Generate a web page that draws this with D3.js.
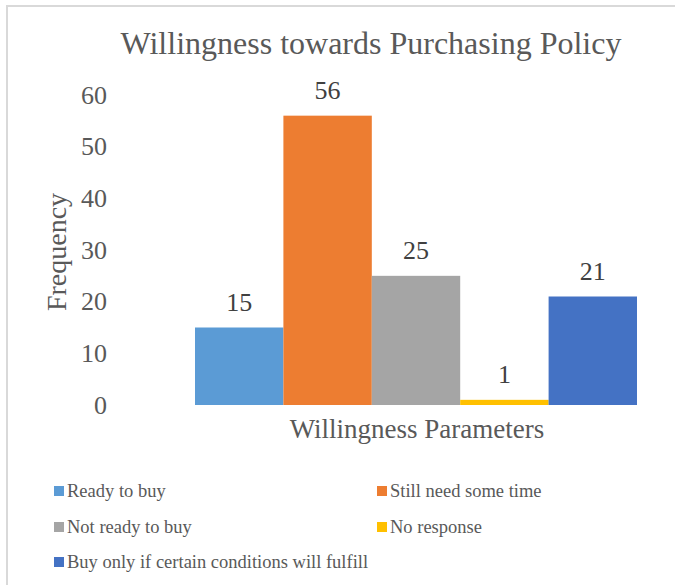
<!DOCTYPE html>
<html>
<head>
<meta charset="utf-8">
<script src="https://cdn.jsdelivr.net/npm/d3@7/dist/d3.min.js"></script>
<style>
  html, body { margin: 0; padding: 0; background: #fff; }
  svg { display: block; font-family: "Liberation Serif", "Times New Roman", serif; }
</style>
</head>
<body>
<svg id="chart" width="682" height="585"></svg>
<script>
// Survey responses: willingness towards the purchasing policy
const categories = ["Ready to buy", "Still need some time", "Not ready to buy", "No response", "Buy only if certain conditions will fulfill"];
const values = [15, 56, 25, 1, 21];
const colors = ["#5B9BD5", "#ED7D31", "#A5A5A5", "#FFC000", "#4472C4"];
const yTicks = [0, 10, 20, 30, 40, 50, 60];

const svg = d3.select("#chart");
const textColor = "#595959";
const fontFamily = "Liberation Serif, Times New Roman, serif";

// chart frame
svg.append("path")
  .attr("d", "M7,586 L7,6 L675,6")
  .attr("fill", "none")
  .attr("stroke", "#d9d9d9")
  .attr("stroke-width", 2);

const x = d3.scaleBand().domain(categories).range([195, 637]).padding(0);
const y = d3.scaleLinear().domain([0, 60]).range([405, 95]);

// title
svg.append("text")
  .attr("x", 371).attr("y", 54)
  .attr("text-anchor", "middle")
  .attr("font-size", 32)
  .attr("fill", textColor)
  .text("Willingness towards Purchasing Policy");

// y axis (labels only)
const yAxis = d3.axisLeft(y).tickValues(yTicks).tickSize(0).tickPadding(0);
const gy = svg.append("g").attr("transform", "translate(107,0)").call(yAxis);
gy.select(".domain").remove();
gy.selectAll("text")
  .attr("font-family", fontFamily)
  .attr("font-size", 26)
  .attr("fill", textColor);

// y axis title
svg.append("text")
  .attr("transform", "translate(66,252) rotate(-90)")
  .attr("text-anchor", "middle")
  .attr("font-size", 28)
  .attr("fill", textColor)
  .text("Frequency");

// bars
svg.append("g").selectAll("rect")
  .data(categories)
  .join("rect")
  .attr("x", d => x(d))
  .attr("width", x.bandwidth())
  .attr("y", (d, i) => y(values[i]))
  .attr("height", (d, i) => y(0) - y(values[i]))
  .attr("fill", (d, i) => colors[i]);

// value labels
svg.append("g").selectAll("text")
  .data(categories)
  .join("text")
  .attr("x", d => x(d) + x.bandwidth() / 2)
  .attr("y", (d, i) => y(values[i]) - 17)
  .attr("text-anchor", "middle")
  .attr("font-size", 26)
  .attr("fill", "#404040")
  .text((d, i) => values[i]);

// x axis title
svg.append("text")
  .attr("x", 417).attr("y", 438)
  .attr("text-anchor", "middle")
  .attr("font-size", 27)
  .attr("fill", textColor)
  .text("Willingness Parameters");

// legend
const legendPos = [[54, 491], [377, 491], [54, 527], [377, 527], [54, 562]];
const lg = svg.append("g").selectAll("g")
  .data(categories)
  .join("g")
  .attr("transform", (d, i) => `translate(${legendPos[i][0]},${legendPos[i][1]})`);
lg.append("rect")
  .attr("x", 0).attr("y", -5)
  .attr("width", 10).attr("height", 10)
  .attr("fill", (d, i) => colors[i]);
lg.append("text")
  .attr("x", 13).attr("y", 6)
  .attr("font-size", 18.5)
  .attr("fill", textColor)
  .text(d => d);
</script>
</body>
</html>
